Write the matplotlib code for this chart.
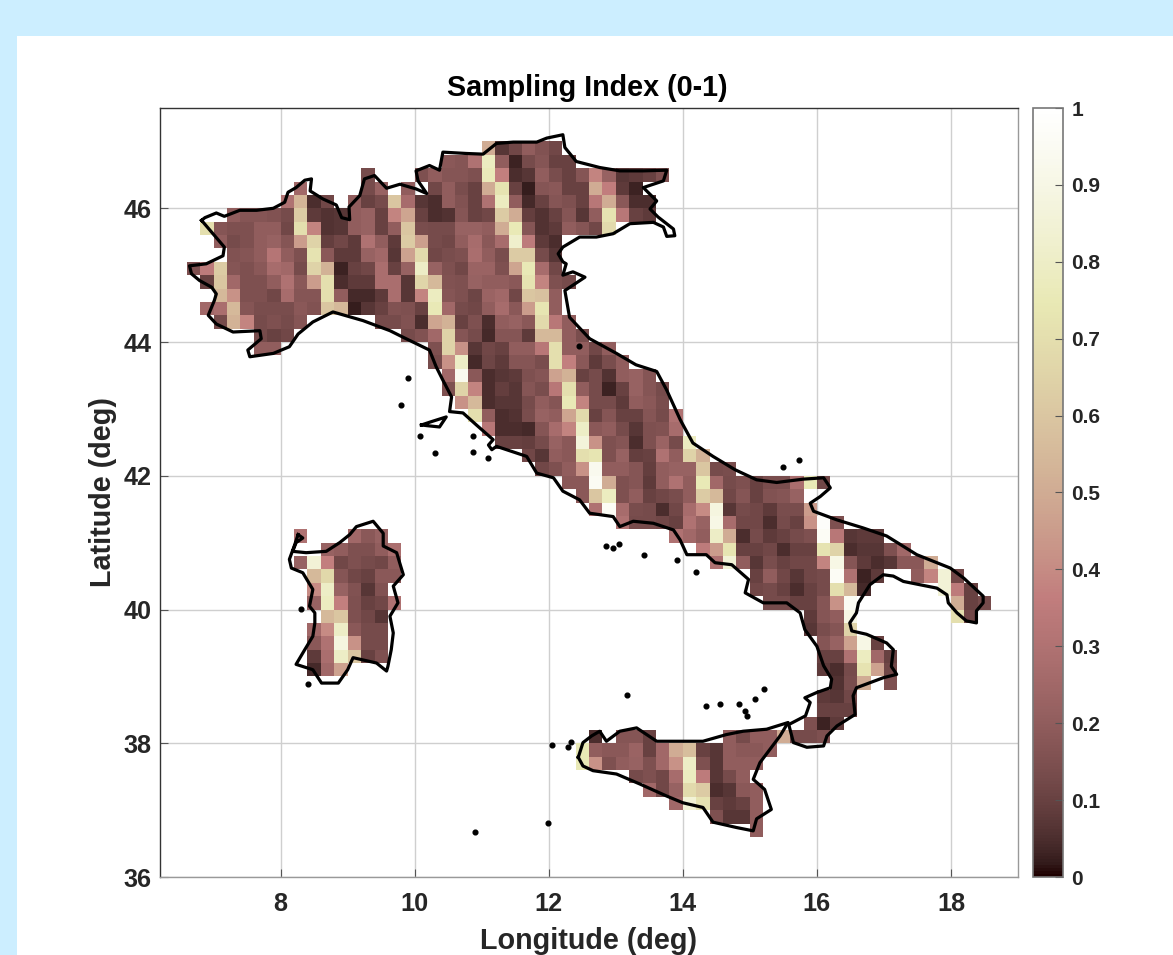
import numpy as np
import matplotlib
matplotlib.use("Agg")
import matplotlib.pyplot as plt
from matplotlib.patches import Rectangle

plt.rcParams['font.family'] = ['Liberation Sans', 'DejaVu Sans']

# Sampling index x100, key = south edge of the row, inner key = west edge of the first cell
mainland = {
    46.8: {11.0: [50, 7, 12, 20, 16, 12]},
    46.6: {10.4: [18, 17, 30, 78, 20, 3, 13, 17, 10, 10]},
    46.4: {9.2: [13], 10.0: [15, 20, 17, 17, 15, 76, 37, 5, 7, 20, 14, 10, 17, 38, 22, 7, 8, 10, 15]},
    46.2: {8.2: [25], 9.2: [13, 22], 9.8: [20], 10.2: [12, 20, 14, 10, 50, 72, 10, 2, 17, 18, 10, 10, 50, 36, 8, 3]},
    46.0: {8.0: [30, 53, 5, 12], 9.0: [20, 10, 13, 60, 27, 7, 5, 20, 16, 10, 30, 78, 20, 4, 10, 17, 15, 10, 33, 50, 18, 5, 5]},
    45.8: {7.2: [20, 17, 17, 16, 13, 62, 8, 6, 7, 20, 22, 10, 38, 48, 10, 5, 6, 17, 10, 12, 62, 50, 9, 6, 10, 17, 7, 20, 72, 33, 10, 8]},
    45.6: {6.8: [70, 17, 15, 15, 20, 20, 12, 70, 38, 6, 7, 20, 22, 10, 20, 60, 14, 13, 13, 22, 22, 20, 50, 75, 17, 6, 8, 20, 17, 12, 68]},
    45.4: {7.0: [20, 13, 15, 20, 22, 17, 45, 65, 9, 12, 8, 30, 20, 8, 62, 46, 13, 12, 20, 27, 18, 27, 82, 35, 8, 5]},
    45.2: {7.2: [16, 17, 20, 32, 20, 15, 72, 18, 8, 8, 22, 25, 7, 47, 68, 12, 14, 15, 28, 20, 14, 62, 62, 13, 7]},
    45.0: {6.6: [15, 35, 62, 17, 15, 18, 27, 25, 13, 65, 52, 3, 10, 12, 28, 10, 22, 80, 22, 15, 12, 23, 23, 15, 48, 75, 27, 12]},
    44.8: {6.8: [10, 60, 25, 15, 15, 20, 30, 18, 45, 70, 5, 8, 8, 28, 28, 7, 66, 55, 16, 15, 22, 20, 20, 18, 72, 38, 15, 13]},
    44.6: {7.0: [55, 42, 15, 15, 12, 27, 17, 17, 70, 20, 4, 4, 8, 28, 7, 38, 78, 17, 15, 11, 23, 25, 12, 60, 58, 20]},
    44.4: {6.8: [25, 28, 55, 17, 14, 14, 14, 18, 16, 60, 55, 2, 7, 10, 16, 15, 10, 75, 25, 13, 12, 20, 27, 18, 45, 73, 20]},
    44.2: {7.0: [13, 52, 38, 13, 15, 13, 17], 9.4: [13, 13, 16, 5, 48, 52, 10, 15, 5, 20, 22, 18, 68, 33, 20]},
    44.0: {7.6: [13, 10, 12], 9.8: [13, 16, 25, 65, 17, 13, 4, 17, 17, 8, 55, 55, 20, 14]},
    43.8: {7.6: [20, 20], 10.2: [15, 65, 42, 7, 12, 10, 20, 20, 33, 70, 20, 20, 12, 20]},
    43.6: {10.2: [13, 42, 80, 4, 11, 8, 17, 17, 14, 70, 37, 18, 8, 14, 20]},
    43.4: {10.4: [25, 93, 18, 5, 7, 8, 15, 17, 47, 52, 10, 13, 6, 20, 22, 17]},
    43.2: {10.4: [15, 65, 38, 5, 9, 7, 17, 14, 33, 70, 20, 13, 3, 10, 22, 17, 13]},
    43.0: {10.6: [42, 55, 5, 7, 7, 13, 20, 17, 75, 38, 13, 13, 8, 20, 18, 14]},
    42.8: {10.8: [70, 20, 5, 6, 14, 22, 20, 48, 68, 10, 17, 10, 10, 17, 13, 30]},
    42.6: {11.0: [33, 5, 5, 4, 17, 27, 38, 80, 18, 20, 13, 7, 15, 16, 27]},
    42.4: {11.2: [10, 10, 9, 13, 22, 18, 86, 42, 15, 17, 5, 15, 23, 13, 78]},
    42.2: {11.6: [12, 7, 20, 18, 70, 73, 15, 22, 9, 10, 30, 20, 65, 52]},
    42.0: {11.8: [12, 15, 20, 42, 93, 20, 20, 17, 9, 20, 22, 22, 60, 13, 14]},
    41.8: {12.2: [18, 18, 95, 50, 15, 17, 8, 20, 30, 20, 75, 25, 13, 15, 10, 14, 14, 28, 75, 12]},
    41.6: {12.4: [18, 60, 78, 15, 20, 10, 12, 14, 20, 62, 55, 12, 17, 10, 16, 17, 22]},
    41.4: {12.6: [30, 96, 27, 14, 13, 5, 12, 27, 40, 88, 7, 13, 12, 8, 14, 14, 45]},
    41.2: {13.0: [30, 13, 13, 12, 10, 30, 22, 90, 27, 12, 12, 5, 13, 10, 42, 98, 15]},
    41.0: {13.8: [30, 25, 20, 80, 50, 5, 13, 8, 10, 13, 15, 96, 33, 7, 8, 8]},
    40.8: {14.2: [35, 45, 73, 10, 10, 12, 5, 10, 10, 72, 65, 5, 7, 7, 15, 25]},
    40.6: {14.4: [30, 85, 20, 7, 14, 10, 12, 12, 38, 90, 17, 8, 5, 7, 18, 18, 50]},
    40.4: {15.0: [10, 20, 12, 7, 12, 13, 96, 30, 3, 8], 17.4: [20, 38, 85, 12]},
    40.2: {15.0: [12, 13, 10, 5, 10, 13, 70, 55, 4], 17.8: [85, 35, 10]},
    40.0: {15.2: [13, 13, 10, 10, 17, 42, 95], 18.0: [50, 10, 13]},
    39.8: {15.8: [8, 17, 20, 90], 18.0: [70, 12]},
    39.6: {15.8: [7, 14, 17, 65]},
    39.4: {16.0: [17, 22, 47, 90, 10]},
    39.2: {16.0: [10, 10, 30, 78, 25, 10]},
    39.0: {16.0: [8, 5, 13, 72, 47, 12]},
    38.8: {16.2: [6, 14, 50], 17.0: [15]},
    38.6: {16.0: [8, 7, 12]},
    38.4: {16.0: [10, 10, 10]},
    38.2: {15.8: [15, 3, 8]},
    38.0: {15.6: [13, 13, 15]},
}

sardinia = {
    41.0: {8.2: [30], 9.0: [25, 18, 22]},
    40.8: {8.6: [22, 20, 15, 15, 20, 28]},
    40.6: {8.2: [22, 85, 37, 12, 15, 13, 12, 20]},
    40.4: {8.4: [55, 67, 17, 12, 10, 18, 18]},
    40.2: {8.4: [40, 80, 22, 16, 7, 16]},
    40.0: {8.4: [22, 78, 37, 15, 10, 12, 30]},
    39.8: {8.6: [55, 60, 15, 12, 7]},
    39.6: {8.4: [25, 40, 80, 18, 13, 13]},
    39.4: {8.4: [18, 30, 88, 42, 13, 13]},
    39.2: {8.4: [8, 28, 80, 60, 10, 15]},
    39.0: {8.4: [4, 25, 47]},
}

sicily = {
    38.0: {12.6: [5], 13.0: [17, 17, 10], 14.6: [20, 13, 20, 20, 50]},
    37.8: {12.4: [75, 20, 18, 18, 23, 10, 25, 50, 57, 10, 7, 20, 18, 18, 20]},
    37.6: {12.4: [75, 42, 15, 20, 22, 15, 25, 42, 80, 15, 7, 20, 20, 20]},
    37.4: {13.2: [13, 15, 12, 27, 78, 35, 7, 13, 20]},
    37.2: {13.4: [25, 12, 22, 68, 62, 5, 7, 18, 20]},
    37.0: {13.8: [25, 85, 72, 10, 8, 10, 20]},
    36.8: {14.4: [15, 7, 7, 20]},
    36.6: {15.0: [20]},
}

# Coast outlines, (lon, lat)
coast_main = [
    (6.82, 45.82), (6.87, 45.86), (7.04, 45.93), (7.16, 45.88), (7.39, 45.97), (7.64, 45.97), (7.89, 46.00),
    (8.06, 46.09), (8.11, 46.24), (8.23, 46.31), (8.36, 46.42), (8.46, 46.44), (8.44, 46.26), (8.63, 46.14),
    (8.83, 46.05), (8.91, 45.86), (9.03, 45.83), (9.02, 46.02), (9.18, 46.19), (9.25, 46.44), (9.40, 46.49),
    (9.58, 46.30), (9.78, 46.36), (10.02, 46.29), (10.18, 46.22), (10.05, 46.41), (10.02, 46.56), (10.22, 46.64),
    (10.37, 46.57), (10.42, 46.84), (10.77, 46.82), (11.02, 46.81), (11.22, 46.97), (11.47, 46.99), (11.82, 46.99),
    (11.97, 47.05), (12.21, 47.10), (12.24, 46.91), (12.41, 46.70), (12.76, 46.61), (13.06, 46.56), (13.41, 46.56),
    (13.76, 46.57), (13.71, 46.41), (13.41, 46.31), (13.61, 46.11), (13.51, 45.99), (13.63, 45.87), (13.86, 45.69),
    (13.88, 45.59), (13.76, 45.58), (13.71, 45.72), (13.56, 45.79), (13.21, 45.77), (12.96, 45.62), (12.71, 45.57),
    (12.46, 45.57), (12.21, 45.42), (12.14, 45.32), (12.21, 45.20), (12.26, 45.17), (12.21, 45.00), (12.36, 45.05),
    (12.54, 44.97), (12.39, 44.87), (12.24, 44.77), (12.31, 44.37), (12.61, 44.05), (13.01, 43.83), (13.30, 43.66),
    (13.61, 43.56), (13.76, 43.28), (13.96, 42.84), (14.15, 42.49), (14.45, 42.29), (14.78, 42.09), (15.10, 41.94),
    (15.40, 41.90), (15.80, 41.95), (16.10, 41.97), (16.20, 41.82), (16.05, 41.69), (15.90, 41.59), (15.95, 41.47),
    (16.30, 41.34), (16.69, 41.22), (17.04, 41.10), (17.49, 40.82), (17.99, 40.62), (18.19, 40.47), (18.48, 40.20),
    (18.48, 40.10), (18.38, 39.98), (18.38, 39.80), (18.23, 39.83), (18.09, 39.95), (17.96, 40.10), (17.94, 40.22),
    (17.79, 40.32), (17.29, 40.42), (17.14, 40.50), (16.99, 40.52), (16.79, 40.37), (16.62, 40.10), (16.59, 39.95),
    (16.49, 39.80), (16.52, 39.68), (16.74, 39.63), (17.04, 39.50), (17.14, 39.40), (17.11, 39.15), (17.19, 39.03),
    (16.99, 38.98), (16.59, 38.83), (16.54, 38.71), (16.57, 38.43), (16.30, 38.26), (16.15, 38.11), (16.10, 37.96),
    (15.85, 37.94), (15.65, 38.01), (15.58, 38.28), (15.83, 38.41), (15.90, 38.61), (15.82, 38.68), (16.00, 38.76),
    (16.20, 38.83), (16.22, 38.96), (16.10, 39.16), (16.00, 39.45), (15.82, 39.70), (15.75, 39.95), (15.55, 40.10),
    (15.20, 40.10), (14.93, 40.25), (14.98, 40.45), (14.73, 40.67), (14.48, 40.70), (14.35, 40.82), (14.06, 40.82),
    (13.96, 41.04), (13.86, 41.19), (13.56, 41.29), (13.26, 41.32), (13.06, 41.24), (12.96, 41.39), (12.61, 41.44),
    (12.46, 41.64), (12.21, 41.77), (12.07, 41.97), (11.82, 42.04), (11.67, 42.29), (11.22, 42.44), (11.15, 42.39),
    (11.10, 42.46), (11.17, 42.54), (10.92, 42.76), (10.72, 42.94), (10.52, 42.96), (10.55, 43.18), (10.42, 43.43),
    (10.32, 43.63), (10.22, 43.88), (9.83, 44.07), (9.63, 44.17), (9.23, 44.32), (8.78, 44.45), (8.48, 44.30),
    (8.26, 44.12), (8.13, 43.93), (7.89, 43.83), (7.54, 43.78), (7.51, 43.88), (7.71, 44.05), (7.69, 44.17),
    (7.29, 44.15), (7.04, 44.27), (6.92, 44.40), (7.01, 44.62), (7.04, 44.72), (6.97, 44.82), (6.79, 44.92),
    (6.67, 45.02), (6.64, 45.14), (6.89, 45.17), (7.14, 45.29), (7.16, 45.42), (6.99, 45.62), (6.82, 45.82),
]
coast_sardinia = [
    (8.26, 41.12), (8.33, 41.07), (8.23, 41.00), (8.18, 40.87), (8.38, 40.85), (8.68, 40.87), (8.88, 41.00),
    (9.03, 41.12), (9.13, 41.24), (9.38, 41.32), (9.53, 41.14), (9.53, 40.95), (9.73, 40.85), (9.83, 40.52),
    (9.68, 40.35), (9.75, 40.10), (9.63, 39.90), (9.68, 39.65), (9.65, 39.40), (9.60, 39.15), (9.58, 39.08),
    (9.43, 39.20), (9.08, 39.28), (9.00, 39.10), (8.86, 38.90), (8.61, 38.90), (8.48, 39.10), (8.23, 39.18),
    (8.36, 39.40), (8.48, 39.60), (8.51, 39.80), (8.51, 39.95), (8.43, 40.05), (8.48, 40.30), (8.33, 40.55),
    (8.16, 40.62), (8.13, 40.75), (8.21, 40.97), (8.26, 41.12),
]
coast_sicily = [
    (12.44, 37.79), (12.51, 38.01), (12.64, 38.11), (12.76, 38.18), (12.86, 38.03), (13.06, 38.18), (13.31, 38.23),
    (13.61, 38.03), (13.91, 38.03), (14.30, 38.03), (14.65, 38.13), (14.90, 38.18), (15.25, 38.21), (15.57, 38.31),
    (15.45, 38.11), (15.15, 37.71), (15.05, 37.46), (15.22, 37.31), (15.32, 37.01), (15.10, 36.87), (15.05, 36.69),
    (14.80, 36.74), (14.45, 36.82), (14.30, 37.04), (14.00, 37.11), (13.76, 37.21), (13.36, 37.39), (13.01, 37.54),
    (12.66, 37.59), (12.51, 37.66), (12.44, 37.79),
]
coast_elba = [(10.10, 42.76), (10.25, 42.81), (10.47, 42.88), (10.37, 42.73), (10.18, 42.75), (10.10, 42.76)]
small_islands = [
    (9.90, 43.46), (9.79, 43.06), (10.30, 42.34), (10.08, 42.60), (10.87, 42.59), (10.87, 42.36), (11.10, 42.26),
    (10.90, 36.67), (11.99, 36.81), (12.85, 40.95), (12.96, 40.92), (13.05, 40.98), (13.42, 40.81), (13.91, 40.74),
    (14.20, 40.56), (15.49, 42.13), (15.74, 42.24), (14.34, 38.56), (14.56, 38.58), (14.84, 38.58), (14.92, 38.48),
    (14.96, 38.41), (15.08, 38.66), (15.21, 38.81), (13.17, 38.72), (12.05, 37.98), (12.29, 37.94), (12.33, 38.02),
    (8.31, 40.01), (8.41, 38.88), (12.45, 43.94),
]

xticks = [8, 10, 12, 14, 16, 18]
yticks = [36, 38, 40, 42, 44, 46]
cticks = [0, 0.1, 0.2, 0.3, 0.4, 0.5, 0.6, 0.7, 0.8, 0.9, 1]
cticklabels = ['0', '0.1', '0.2', '0.3', '0.4', '0.5', '0.6', '0.7', '0.8', '0.9', '1']

# Cell grid
lon_edges = 6.6 + 0.2 * np.arange(61)
lat_edges = 36.6 + 0.2 * np.arange(53)
grid = np.full((52, 60), np.nan)
for region in [mainland, sardinia, sicily]:
    for lat, parts in region.items():
        j = int(round((lat - 36.6) / 0.2))
        for lon, vals in parts.items():
            i = int(round((lon - 6.6) / 0.2))
            grid[j, i:i + len(vals)] = np.array(vals) / 100

W, H = 1173, 955
text_col = '#262626'
fig = plt.figure(figsize=(W / 100, H / 100), dpi=100, facecolor='#cceeff')
fig.add_artist(Rectangle((17 / W, 0), 1 - 17 / W, 1 - 36 / H, transform=fig.transFigure,
                         facecolor='white', edgecolor='none', zorder=-1))

ax = fig.add_axes([160 / W, 1 - 877 / H, 858 / W, 769 / H])
ax.set_axisbelow(True)
ax.grid(True, color='#cfcfcf', lw=1)
mesh = ax.pcolormesh(lon_edges, lat_edges, np.ma.masked_invalid(grid), cmap='pink', vmin=0, vmax=1, zorder=2)

for coast in [coast_main, coast_sardinia, coast_sicily, coast_elba]:
    c = np.array(coast)
    ax.plot(c[:, 0], c[:, 1], color='black', lw=2.3, zorder=3, solid_joinstyle='round')
isl = np.array(small_islands)
ax.plot(isl[:, 0], isl[:, 1], 'o', color='black', ms=3.4, zorder=3)

ax.set_xlim(6.2, 19)
ax.set_ylim(36, 47.5)
ax.set_xticks(xticks)
ax.set_yticks(yticks)
ax.tick_params(direction='in', length=6, width=0.8, color='#555555', labelcolor=text_col, labelsize=18.2)
ax.tick_params(axis='x', pad=11)
ax.tick_params(axis='y', pad=6)
for lab in ax.get_xticklabels() + ax.get_yticklabels():
    lab.set_fontweight('bold')
for side, s in ax.spines.items():
    s.set_color('#333333' if side in ('left', 'top') else '#999999')
    s.set_linewidth(1.0)
ax.set_title('Sampling Index (0-1)', fontsize=20.7, fontweight='bold', color='black', pad=9, x=0.498)
ax.set_xlabel('Longitude (deg)', fontsize=20.7, fontweight='bold', color=text_col, labelpad=8)
ax.set_ylabel('Latitude (deg)', fontsize=20.7, fontweight='bold', color=text_col, labelpad=5)

cax = fig.add_axes([1033 / W, 1 - 877 / H, 30 / W, 769 / H])
cb = fig.colorbar(mesh, cax=cax)
cb.set_ticks(cticks)
cb.set_ticklabels(cticklabels)
cax.tick_params(direction='in', length=6, width=0.8, color='#555555', labelcolor=text_col, labelsize=15, pad=6)
for lab in cax.get_yticklabels():
    lab.set_fontweight('bold')
cb.outline.set_edgecolor('#777777')
cb.outline.set_linewidth(1.2)

fig.savefig('out.png', dpi=100, facecolor=fig.get_facecolor())
